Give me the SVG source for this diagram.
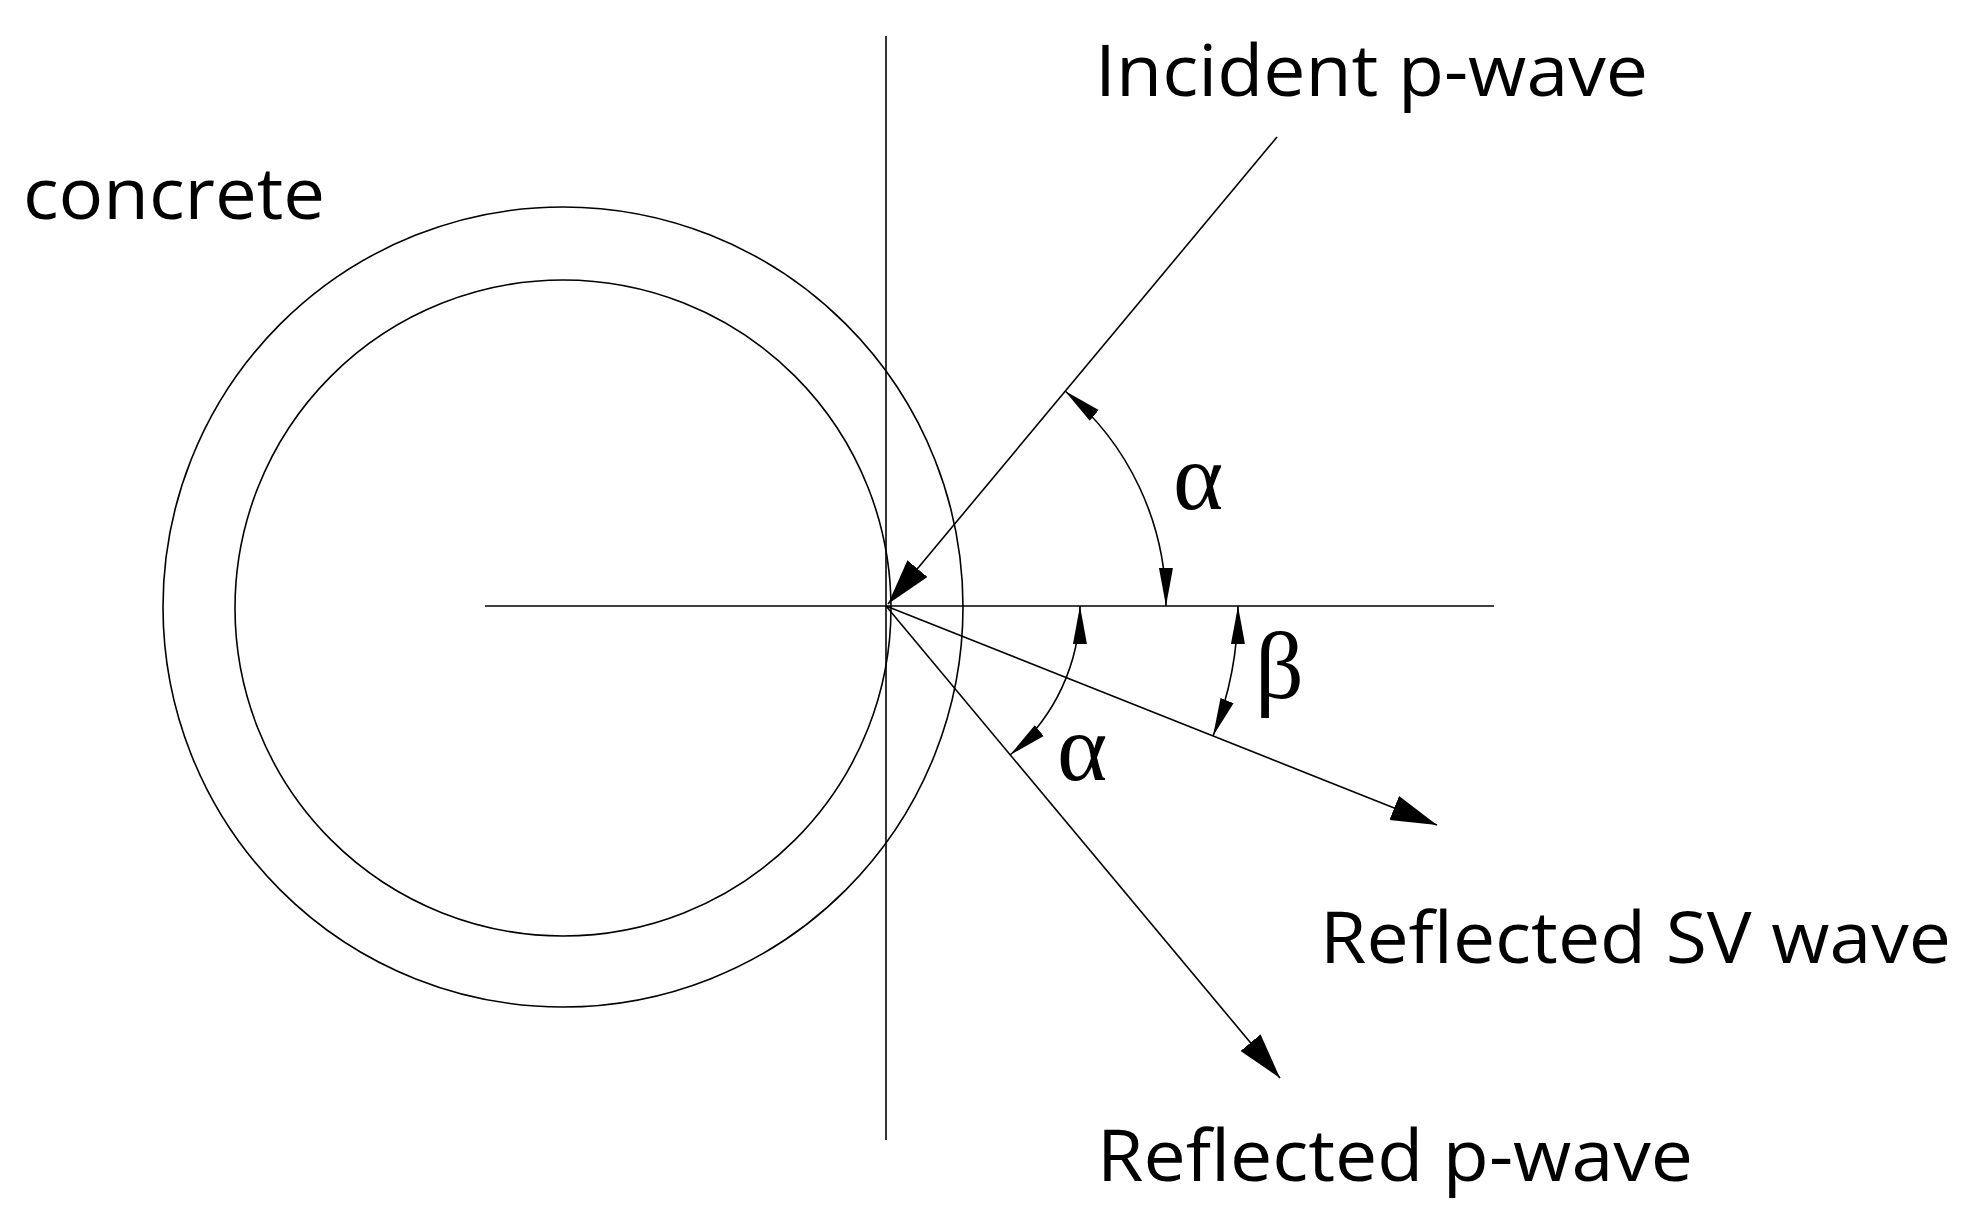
<svg xmlns="http://www.w3.org/2000/svg" width="1969" height="1226" viewBox="0 0 1969 1226">
<style>
.l{stroke:#000;stroke-width:1.6;fill:none}
.t{font-family:"Open Sans","Liberation Sans",sans-serif;font-size:72px;fill:#000}
.g{font-family:"Liberation Serif",serif;font-size:96px;fill:#000}
</style>
<defs>
<marker id="a" markerWidth="48" markerHeight="30" refX="46" refY="15" orient="auto" markerUnits="userSpaceOnUse"><path d="M0,2 L46,15 L0,28 Z"/></marker>
<marker id="s" markerWidth="40" markerHeight="16" refX="38" refY="8" orient="auto-start-reverse" markerUnits="userSpaceOnUse"><path d="M0,1 L38,8 L0,15 Z"/></marker>
</defs>
<rect width="1969" height="1226" fill="#fff"/>
<g transform="translate(-5,-2)">
<g id="concrete">
<circle class="l" cx="568" cy="609" r="400"/>
<circle class="l" cx="568" cy="610" r="328"/>
</g>
<g id="axes">
<line class="l" x1="891" y1="38" x2="891" y2="1142"/>
<line class="l" x1="490" y1="608" x2="1499" y2="608" stroke-width="2"/>
</g>
<g id="connectors">
<line class="l" x1="1282" y1="139" x2="893" y2="606" marker-end="url(#a)"/>
<line class="l" x1="891" y1="608" x2="1442" y2="827" marker-end="url(#a)"/>
<line class="l" x1="891" y1="608" x2="1285" y2="1080" marker-end="url(#a)"/>
<path class="l" d="M1070,393 A280,280 0 0 1 1171,608" marker-start="url(#s)" marker-end="url(#s)"/>
<path class="l" d="M1243,608 A352,352 0 0 1 1218,738" marker-start="url(#s)" marker-end="url(#s)"/>
<path class="l" d="M1085,608 A194,194 0 0 1 1015,757" marker-start="url(#s)" marker-end="url(#s)"/>
</g>
<g id="labels">
<text class="t" x="1100" y="98" textLength="553" lengthAdjust="spacingAndGlyphs">Incident p-wave</text>
<text class="t" x="28" y="221" textLength="302" lengthAdjust="spacingAndGlyphs">concrete</text>
<text class="t" x="1325" y="965" textLength="631" lengthAdjust="spacingAndGlyphs">Reflected SV wave</text>
<text class="t" x="1102" y="1183" textLength="596" lengthAdjust="spacingAndGlyphs">Reflected p-wave</text>
<text class="g" x="1178" y="511">α</text>
<text class="g" x="1260" y="700">β</text>
<text class="g" x="1062" y="782">α</text>
</g>
</g>
</svg>
